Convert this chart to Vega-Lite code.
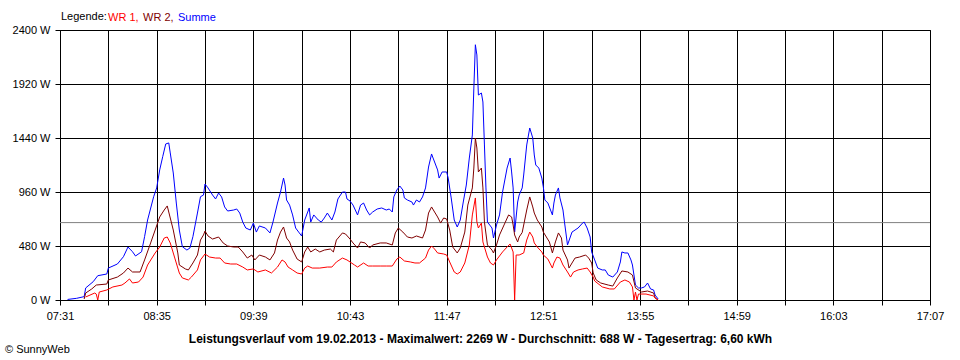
{
"$schema": "https://vega.github.io/schema/vega-lite/v6.json",
"width": 870, "height": 270,
"autosize": {"type": "none"},
"padding": {"left": 60, "top": 30, "right": 30, "bottom": 60},
"background": "white",
"config": {
  "font": "Liberation Sans",
  "view": {"stroke": "black", "strokeWidth": 1},
  "axis": {"gridColor": "black", "gridOpacity": 1, "gridWidth": 1, "domainColor": "black", "tickColor": "black", "labelColor": "black", "labelFont": "Liberation Sans", "labelFontSize": 11, "tickSize": 5, "labelPadding": 5}
},
"title": {"text": "© SunnyWeb", "orient": "bottom", "anchor": "start", "frame": "group", "fontSize": 11, "fontWeight": "normal", "font": "Liberation Sans", "color": "black", "dx": -55, "offset": 0},
"datasets": {
 "summe": [{"t":456,"w":5},{"t":462,"w":15},{"t":467,"w":30},{"t":468,"w":107},{"t":473,"w":163},{"t":476,"w":216},{"t":482,"w":231},{"t":483,"w":284},{"t":489,"w":320},{"t":493,"w":385},{"t":496,"w":471},{"t":499,"w":429},{"t":501,"w":391},{"t":505,"w":429},{"t":507,"w":563},{"t":509,"w":711},{"t":513,"w":918},{"t":515,"w":996},{"t":517,"w":1156},{"t":519,"w":1274},{"t":521,"w":1387},{"t":523,"w":1396},{"t":524,"w":1307},{"t":526,"w":1129},{"t":528,"w":862},{"t":530,"w":622},{"t":532,"w":474},{"t":535,"w":444},{"t":537,"w":462},{"t":539,"w":563},{"t":542,"w":773},{"t":544,"w":918},{"t":546,"w":933},{"t":547,"w":1031},{"t":549,"w":996},{"t":552,"w":933},{"t":554,"w":898},{"t":556,"w":951},{"t":558,"w":916},{"t":560,"w":827},{"t":562,"w":791},{"t":566,"w":800},{"t":568,"w":809},{"t":570,"w":773},{"t":572,"w":693},{"t":574,"w":640},{"t":577,"w":622},{"t":579,"w":684},{"t":581,"w":604},{"t":583,"w":658},{"t":587,"w":640},{"t":590,"w":596},{"t":592,"w":693},{"t":595,"w":862},{"t":597,"w":960},{"t":599,"w":1084},{"t":600,"w":1022},{"t":601,"w":889},{"t":603,"w":844},{"t":605,"w":756},{"t":607,"w":640},{"t":609,"w":604},{"t":611,"w":569},{"t":613,"w":711},{"t":615,"w":782},{"t":616,"w":818},{"t":617,"w":693},{"t":619,"w":756},{"t":622,"w":711},{"t":624,"w":693},{"t":626,"w":729},{"t":628,"w":773},{"t":631,"w":711},{"t":633,"w":782},{"t":635,"w":898},{"t":638,"w":960},{"t":640,"w":960},{"t":641,"w":898},{"t":643,"w":880},{"t":645,"w":844},{"t":648,"w":756},{"t":650,"w":844},{"t":652,"w":862},{"t":654,"w":800},{"t":656,"w":756},{"t":658,"w":782},{"t":661,"w":809},{"t":664,"w":818},{"t":667,"w":800},{"t":669,"w":809},{"t":671,"w":782},{"t":672,"w":916},{"t":674,"w":978},{"t":676,"w":1013},{"t":678,"w":978},{"t":679,"w":907},{"t":681,"w":889},{"t":684,"w":871},{"t":685,"w":844},{"t":687,"w":889},{"t":689,"w":871},{"t":691,"w":916},{"t":693,"w":996},{"t":695,"w":1182},{"t":697,"w":1298},{"t":698,"w":1262},{"t":701,"w":1156},{"t":702,"w":1084},{"t":704,"w":1138},{"t":707,"w":1138},{"t":708,"w":1084},{"t":710,"w":907},{"t":712,"w":711},{"t":714,"w":649},{"t":716,"w":711},{"t":718,"w":871},{"t":720,"w":1022},{"t":722,"w":1262},{"t":724,"w":1467},{"t":725,"w":1884},{"t":726,"w":2269},{"t":727,"w":2178},{"t":728,"w":1822},{"t":730,"w":1840},{"t":731,"w":1760},{"t":732,"w":1378},{"t":733,"w":996},{"t":734,"w":693},{"t":737,"w":640},{"t":738,"w":551},{"t":740,"w":667},{"t":742,"w":756},{"t":744,"w":960},{"t":747,"w":1173},{"t":749,"w":1262},{"t":750,"w":1138},{"t":751,"w":996},{"t":752,"w":604},{"t":754,"w":871},{"t":755,"w":933},{"t":757,"w":996},{"t":758,"w":1111},{"t":760,"w":1378},{"t":762,"w":1529},{"t":764,"w":1440},{"t":765,"w":1289},{"t":766,"w":1200},{"t":768,"w":1173},{"t":770,"w":1084},{"t":771,"w":1004},{"t":772,"w":889},{"t":774,"w":862},{"t":777,"w":756},{"t":778,"w":862},{"t":779,"w":933},{"t":781,"w":996},{"t":782,"w":907},{"t":784,"w":800},{"t":785,"w":693},{"t":787,"w":489},{"t":790,"w":604},{"t":792,"w":622},{"t":794,"w":640},{"t":797,"w":684},{"t":798,"w":693},{"t":800,"w":640},{"t":802,"w":560},{"t":803,"w":427},{"t":805,"w":356},{"t":807,"w":284},{"t":810,"w":267},{"t":812,"w":267},{"t":814,"w":222},{"t":817,"w":204},{"t":820,"w":249},{"t":822,"w":338},{"t":823,"w":427},{"t":825,"w":418},{"t":827,"w":418},{"t":829,"w":356},{"t":830,"w":311},{"t":832,"w":133},{"t":834,"w":107},{"t":836,"w":107},{"t":838,"w":116},{"t":840,"w":151},{"t":842,"w":98},{"t":844,"w":89},{"t":845,"w":44},{"t":847,"w":9}],
 "wr2": [{"t":467,"w":9},{"t":468,"w":62},{"t":472,"w":98},{"t":475,"w":133},{"t":482,"w":142},{"t":483,"w":178},{"t":489,"w":204},{"t":493,"w":240},{"t":496,"w":284},{"t":499,"w":249},{"t":504,"w":249},{"t":507,"w":356},{"t":511,"w":507},{"t":514,"w":622},{"t":517,"w":738},{"t":520,"w":800},{"t":522,"w":836},{"t":523,"w":782},{"t":526,"w":622},{"t":529,"w":418},{"t":530,"w":311},{"t":534,"w":276},{"t":536,"w":267},{"t":539,"w":329},{"t":542,"w":400},{"t":544,"w":533},{"t":546,"w":578},{"t":547,"w":613},{"t":549,"w":569},{"t":552,"w":542},{"t":556,"w":560},{"t":559,"w":507},{"t":562,"w":480},{"t":566,"w":471},{"t":569,"w":471},{"t":572,"w":427},{"t":575,"w":373},{"t":578,"w":400},{"t":580,"w":356},{"t":583,"w":400},{"t":587,"w":382},{"t":590,"w":356},{"t":593,"w":418},{"t":595,"w":533},{"t":597,"w":604},{"t":599,"w":649},{"t":601,"w":551},{"t":603,"w":516},{"t":605,"w":444},{"t":608,"w":364},{"t":611,"w":338},{"t":613,"w":427},{"t":615,"w":471},{"t":617,"w":427},{"t":620,"w":453},{"t":623,"w":427},{"t":626,"w":444},{"t":630,"w":453},{"t":632,"w":427},{"t":634,"w":533},{"t":638,"w":596},{"t":640,"w":587},{"t":643,"w":542},{"t":645,"w":507},{"t":648,"w":462},{"t":650,"w":516},{"t":653,"w":507},{"t":656,"w":462},{"t":658,"w":489},{"t":663,"w":507},{"t":667,"w":507},{"t":671,"w":489},{"t":673,"w":596},{"t":675,"w":640},{"t":678,"w":604},{"t":681,"w":560},{"t":684,"w":551},{"t":687,"w":569},{"t":691,"w":551},{"t":693,"w":622},{"t":695,"w":773},{"t":697,"w":827},{"t":699,"w":782},{"t":701,"w":738},{"t":703,"w":684},{"t":705,"w":729},{"t":707,"w":720},{"t":709,"w":622},{"t":711,"w":471},{"t":714,"w":418},{"t":716,"w":462},{"t":719,"w":604},{"t":721,"w":844},{"t":724,"w":996},{"t":725,"w":1173},{"t":726,"w":1440},{"t":727,"w":1351},{"t":728,"w":1138},{"t":730,"w":1173},{"t":731,"w":996},{"t":732,"w":693},{"t":734,"w":489},{"t":737,"w":444},{"t":738,"w":418},{"t":740,"w":489},{"t":742,"w":578},{"t":745,"w":667},{"t":748,"w":756},{"t":750,"w":738},{"t":751,"w":667},{"t":752,"w":578},{"t":754,"w":516},{"t":755,"w":560},{"t":757,"w":600},{"t":760,"w":800},{"t":762,"w":916},{"t":764,"w":827},{"t":765,"w":773},{"t":767,"w":711},{"t":770,"w":649},{"t":771,"w":604},{"t":773,"w":560},{"t":775,"w":516},{"t":777,"w":418},{"t":779,"w":516},{"t":781,"w":596},{"t":783,"w":551},{"t":784,"w":444},{"t":787,"w":356},{"t":788,"w":284},{"t":790,"w":329},{"t":792,"w":373},{"t":795,"w":382},{"t":799,"w":400},{"t":801,"w":373},{"t":803,"w":329},{"t":804,"w":240},{"t":806,"w":178},{"t":809,"w":151},{"t":814,"w":133},{"t":817,"w":124},{"t":820,"w":196},{"t":823,"w":258},{"t":827,"w":249},{"t":830,"w":222},{"t":832,"w":107},{"t":836,"w":71},{"t":840,"w":80},{"t":844,"w":62},{"t":845,"w":18},{"t":847,"w":0}],
 "wr1": [{"t":468,"w":27},{"t":474,"w":62},{"t":475,"w":53},{"t":476,"w":0},{"t":477,"w":71},{"t":482,"w":89},{"t":486,"w":116},{"t":492,"w":133},{"t":494,"w":151},{"t":497,"w":187},{"t":499,"w":151},{"t":503,"w":160},{"t":506,"w":204},{"t":509,"w":311},{"t":514,"w":418},{"t":517,"w":471},{"t":520,"w":551},{"t":522,"w":560},{"t":524,"w":507},{"t":527,"w":373},{"t":530,"w":240},{"t":532,"w":196},{"t":536,"w":178},{"t":538,"w":204},{"t":542,"w":267},{"t":544,"w":356},{"t":547,"w":409},{"t":550,"w":382},{"t":554,"w":373},{"t":557,"w":373},{"t":560,"w":329},{"t":564,"w":320},{"t":568,"w":320},{"t":572,"w":293},{"t":575,"w":267},{"t":579,"w":276},{"t":582,"w":249},{"t":587,"w":267},{"t":591,"w":240},{"t":595,"w":293},{"t":598,"w":356},{"t":600,"w":338},{"t":602,"w":293},{"t":605,"w":267},{"t":608,"w":240},{"t":611,"w":231},{"t":613,"w":284},{"t":615,"w":302},{"t":618,"w":284},{"t":623,"w":284},{"t":628,"w":293},{"t":631,"w":293},{"t":634,"w":338},{"t":638,"w":373},{"t":641,"w":356},{"t":643,"w":338},{"t":646,"w":311},{"t":648,"w":293},{"t":652,"w":329},{"t":655,"w":302},{"t":658,"w":302},{"t":663,"w":302},{"t":667,"w":302},{"t":671,"w":302},{"t":674,"w":364},{"t":676,"w":382},{"t":679,"w":347},{"t":683,"w":338},{"t":686,"w":329},{"t":689,"w":329},{"t":693,"w":373},{"t":695,"w":444},{"t":697,"w":480},{"t":699,"w":453},{"t":701,"w":418},{"t":705,"w":409},{"t":707,"w":400},{"t":709,"w":338},{"t":712,"w":249},{"t":714,"w":231},{"t":716,"w":249},{"t":719,"w":329},{"t":722,"w":489},{"t":724,"w":756},{"t":726,"w":907},{"t":727,"w":693},{"t":728,"w":640},{"t":730,"w":684},{"t":731,"w":516},{"t":734,"w":382},{"t":736,"w":329},{"t":738,"w":311},{"t":740,"w":356},{"t":744,"w":427},{"t":747,"w":471},{"t":749,"w":498},{"t":751,"w":427},{"t":752,"w":0},{"t":753,"w":400},{"t":755,"w":400},{"t":758,"w":418},{"t":760,"w":533},{"t":762,"w":604},{"t":764,"w":560},{"t":765,"w":507},{"t":767,"w":471},{"t":770,"w":427},{"t":771,"w":400},{"t":774,"w":364},{"t":777,"w":284},{"t":778,"w":329},{"t":780,"w":382},{"t":782,"w":373},{"t":784,"w":311},{"t":787,"w":249},{"t":789,"w":204},{"t":791,"w":249},{"t":794,"w":267},{"t":797,"w":276},{"t":800,"w":284},{"t":802,"w":249},{"t":804,"w":204},{"t":805,"w":169},{"t":810,"w":116},{"t":815,"w":98},{"t":818,"w":98},{"t":822,"w":160},{"t":825,"w":178},{"t":828,"w":160},{"t":830,"w":116},{"t":831,"w":0},{"t":832,"w":71},{"t":833,"w":0},{"t":834,"w":53},{"t":839,"w":53},{"t":844,"w":36},{"t":845,"w":18},{"t":847,"w":0}],
 "avg": [{"w":688}]
},
"layer": [
  {"data": {"name": "avg"},
   "mark": {"type": "rule", "color": "#808080", "strokeWidth": 1},
   "encoding": {"y": {"field": "w", "type": "quantitative"}}},
  {"data": {"name": "summe"},
   "mark": {"type": "line", "strokeWidth": 1},
   "encoding": {
     "x": {"field": "t", "type": "quantitative",
       "scale": {"domain": [451, 1027], "nice": false, "zero": false},
       "axis": {"values": [451,483,515,547,579,611,643,675,707,739,771,803,835,867,899,931,963,995,1027],
         "labelExpr": "((datum.value - 451) % 64 == 0) ? ((floor(datum.value/60) < 10 ? '0' : '') + floor(datum.value/60) + ':' + (datum.value % 60 < 10 ? '0' : '') + (datum.value % 60)) : ''",
         "labelFlush": false, "labelOverlap": false, "grid": true,
         "title": "Leistungsverlauf vom 19.02.2013 - Maximalwert: 2269 W - Durchschnitt: 688 W - Tagesertrag: 6,60 kWh",
         "titleFont": "Liberation Sans", "titleFontSize": 12, "titleFontWeight": "bold", "titleColor": "black",
         "titleX": 420, "titleY": 42, "titleAlign": "center", "titleBaseline": "alphabetic"}},
     "y": {"field": "w", "type": "quantitative",
       "scale": {"domain": [0, 2400], "nice": false},
       "axis": {"values": [0,480,960,1440,1920,2400], "labelExpr": "datum.value + ' W'", "title": null, "grid": true}},
     "color": {"datum": "Summe", "type": "nominal",
       "scale": {"domain": ["WR 1", "WR 2", "Summe"], "range": ["#ff0000", "#800000", "#0000ff"]},
       "legend": {"orient": "none", "legendX": 1, "legendY": -18, "direction": "horizontal",
         "title": "Legende:", "titleOrient": "left", "titleFont": "Liberation Sans", "titleFontSize": 11, "titleFontWeight": "normal", "titleColor": "black", "titlePadding": 3,
         "labelFont": "Liberation Sans", "labelFontSize": 11, "labelOffset": -13, "columnPadding": 4, "padding": 0,
         "symbolType": "circle", "symbolSize": 0, "symbolStrokeWidth": 0, "symbolOpacity": 0,
         "labelExpr": "datum.label == 'Summe' ? datum.label : datum.label + ','",
         "encode": {"labels": {"update": {"fill": {"scale": "color", "field": "value"}}}}}}
   }},
  {"data": {"name": "wr2"},
   "mark": {"type": "line", "strokeWidth": 1},
   "encoding": {
     "x": {"field": "t", "type": "quantitative"},
     "y": {"field": "w", "type": "quantitative"},
     "color": {"datum": "WR 2", "type": "nominal"}}},
  {"data": {"name": "wr1"},
   "mark": {"type": "line", "strokeWidth": 1},
   "encoding": {
     "x": {"field": "t", "type": "quantitative"},
     "y": {"field": "w", "type": "quantitative"},
     "color": {"datum": "WR 1", "type": "nominal"}}}
]
}
